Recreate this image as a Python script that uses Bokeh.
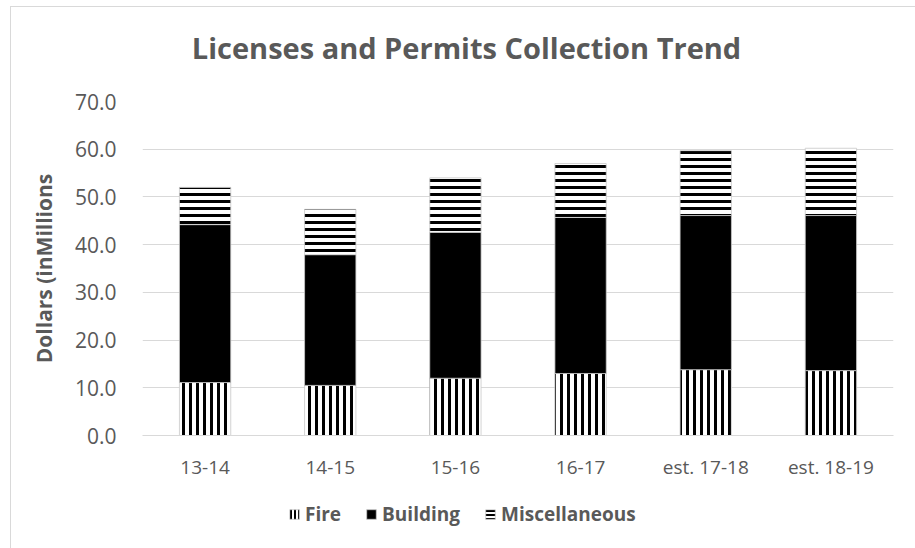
from bokeh.plotting import figure
from bokeh.models import ColumnDataSource, Legend, LegendItem, NumeralTickFormatter, Label
from bokeh.layouts import column
from bokeh.embed import file_html
from bokeh.resources import INLINE

categories = ["13-14", "14-15", "15-16", "16-17", "est. 17-18", "est. 18-19"]
fire = [11.1, 10.5, 12.0, 13.0, 13.8, 13.6]
building = [33.1, 27.4, 30.6, 32.7, 32.3, 32.5]
misc = [7.8, 9.5, 11.4, 11.3, 13.6, 14.1]
series = ["Fire", "Building", "Miscellaneous"]
y_ticks = [0, 10, 20, 30, 40, 50, 60, 70]
title_text = "Licenses and Permits Collection Trend"

src = ColumnDataSource(dict(cat=categories, Fire=fire, Building=building, Miscellaneous=misc))

FONT = "Open Sans"
GRAY = "#595959"
FILLS = ["white", "black", "white"]
HATCHES = ["vertical_line", " ", "horizontal_line"]


def strip(height, x_range, y_range):
    f = figure(width=905, height=height, x_range=x_range, y_range=y_range,
               output_backend="svg", toolbar_location=None,
               min_border_left=131, min_border_right=23, min_border_top=0, min_border_bottom=0)
    f.axis.visible = False
    f.grid.visible = False
    f.outline_line_color = None
    f.background_fill_color = "white"
    f.border_fill_color = "white"
    return f


# title strip
tf = strip(64, (0, 1), (0, 1))
tf.add_layout(Label(x=324, y=24, x_units="screen", y_units="screen", text=title_text,
                    text_align="center", text_baseline="alphabetic",
                    text_font=FONT, text_font_size="29px", text_font_style="bold", text_color=GRAY))

# main chart
p = figure(x_range=categories, y_range=(0, 70), width=905, frame_height=334,
           output_backend="svg", toolbar_location=None,
           min_border_left=131, min_border_right=23, min_border_top=30, min_border_bottom=50)
p.title = None

p.vbar_stack(series, x="cat", width=0.41, source=src,
             fill_color=FILLS, line_color="#c8c8c8", line_width=0.8,
             hatch_pattern=HATCHES, hatch_color="black", hatch_scale=7, hatch_weight=3)

p.outline_line_color = None
p.background_fill_color = "white"
p.border_fill_color = "white"

p.xgrid.grid_line_color = None
p.ygrid.grid_line_color = "#d9d9d9"
p.ygrid.grid_line_width = 1

p.yaxis.ticker = y_ticks
p.yaxis.formatter = NumeralTickFormatter(format="0.0")
p.yaxis.axis_line_color = None
p.yaxis.major_tick_line_color = None
p.yaxis.minor_tick_line_color = None
p.yaxis.major_label_text_font = FONT
p.yaxis.major_label_text_font_size = "21px"
p.yaxis.major_label_text_color = GRAY
p.yaxis.major_label_standoff = 20
p.yaxis.axis_label = "Dollars (inMillions"
p.yaxis.axis_label_text_font = FONT
p.yaxis.axis_label_text_font_size = "21px"
p.yaxis.axis_label_text_font_style = "bold"
p.yaxis.axis_label_text_color = GRAY
p.yaxis.axis_label_standoff = 14

p.xaxis.axis_line_color = "#d9d9d9"
p.xaxis.major_tick_line_color = None
p.xaxis.minor_tick_line_color = None
p.xaxis.major_label_text_font = FONT
p.xaxis.major_label_text_font_size = "19px"
p.xaxis.major_label_text_color = GRAY
p.xaxis.major_label_standoff = 12

# legend strip: same stacked series, drawn with a y range above all bars so only the legend shows
lf = strip(64, categories, (1000, 1001))
leg_renderers = lf.vbar_stack(series, x="cat", width=0.41, source=src,
                              fill_color=FILLS, line_color="#c8c8c8", line_width=0.8,
                              hatch_pattern=HATCHES, hatch_color="black", hatch_scale=4, hatch_weight=2)
items = [LegendItem(label=name, renderers=[r]) for name, r in zip(series, leg_renderers)]

legend = Legend(items=items, orientation="horizontal", location=(146, 22),
                label_text_font=FONT, label_text_font_size="19px", label_text_font_style="bold",
                label_text_color=GRAY, glyph_width=12, glyph_height=12, label_standoff=5, spacing=24,
                border_line_color=None, background_fill_alpha=0, margin=0, padding=4)
lf.add_layout(legend)

layout = column(tf, p, lf, spacing=0, margin=(6, 0, 0, 10),
                styles={"border-left": "1px solid #d9d9d9", "border-top": "1px solid #d9d9d9",
                        "background-color": "white"})

open("out.html", "w").write(file_html(layout, INLINE))
